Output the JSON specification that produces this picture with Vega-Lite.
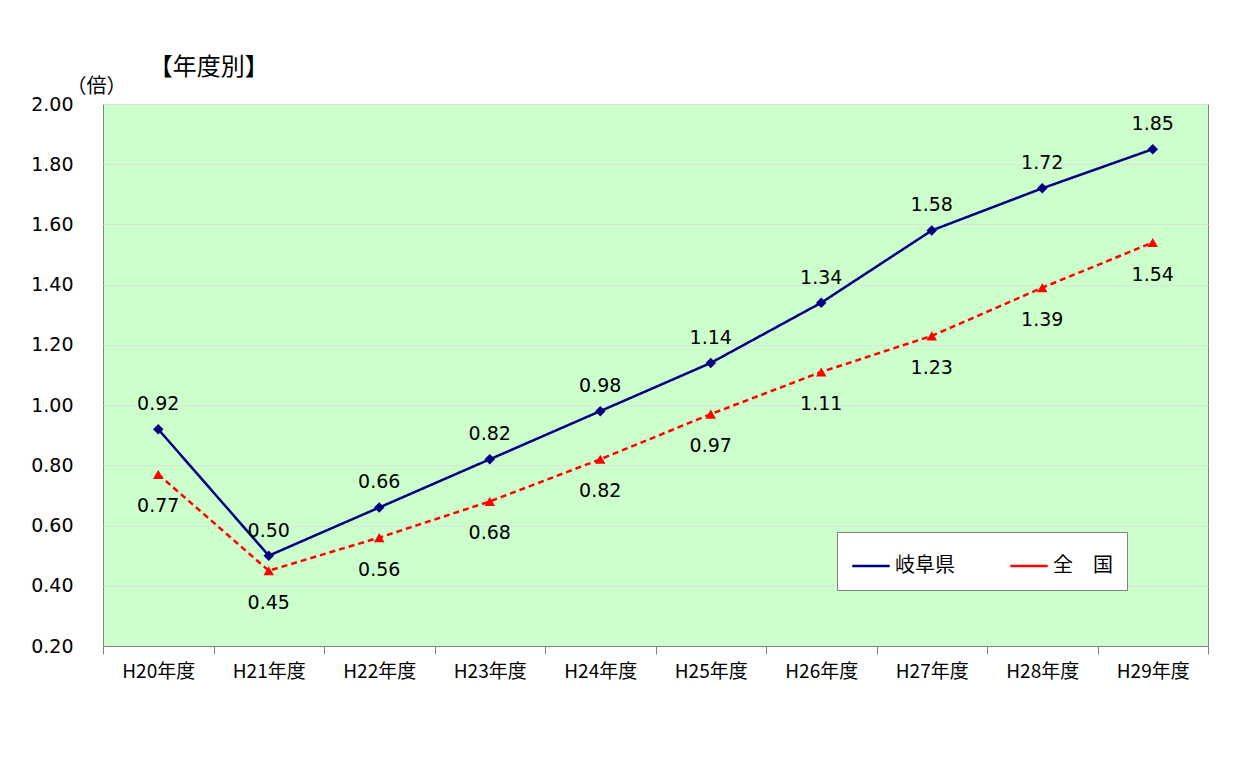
{
"$schema":"https://vega.github.io/schema/vega-lite/v6.json",
"width":1105,"height":542,
"autosize":"none",
"padding":{"left":103,"top":104,"right":50,"bottom":116},
"background":"white",
"title":{"text":"【年度別】","anchor":"start","dx":118,"offset":-4,"fontSize":24,"font":"Noto Sans CJK JP","fontWeight":"normal"},
"config":{"view":{"fill":"#CCFFCC","stroke":"#808080"},"font":"DejaVu Sans"},
"resolve":{"legend":{"color":"independent","shape":"independent"}},
"data":{"values":[
{"year":"H20年度","s":"岐阜県","v":0.92},{"year":"H21年度","s":"岐阜県","v":0.50},{"year":"H22年度","s":"岐阜県","v":0.66},{"year":"H23年度","s":"岐阜県","v":0.82},{"year":"H24年度","s":"岐阜県","v":0.98},{"year":"H25年度","s":"岐阜県","v":1.14},{"year":"H26年度","s":"岐阜県","v":1.34},{"year":"H27年度","s":"岐阜県","v":1.58},{"year":"H28年度","s":"岐阜県","v":1.72},{"year":"H29年度","s":"岐阜県","v":1.85},
{"year":"H20年度","s":"全　国","v":0.77},{"year":"H21年度","s":"全　国","v":0.45},{"year":"H22年度","s":"全　国","v":0.56},{"year":"H23年度","s":"全　国","v":0.68},{"year":"H24年度","s":"全　国","v":0.82},{"year":"H25年度","s":"全　国","v":0.97},{"year":"H26年度","s":"全　国","v":1.11},{"year":"H27年度","s":"全　国","v":1.23},{"year":"H28年度","s":"全　国","v":1.39},{"year":"H29年度","s":"全　国","v":1.54}
]},
"encoding":{
"x":{"field":"year","type":"ordinal","title":null,"scale":{"paddingInner":0,"paddingOuter":0},"axis":{"labelAngle":0,"labelFontSize":19,"labelFont":"Noto Sans CJK JP","labelColor":"black","tickBand":"extent","tickSize":8,"tickColor":"#808080","domainColor":"#808080","labelPadding":8}},
"y":{"field":"v","type":"quantitative","scale":{"domain":[0.2,2.0]},"title":"（倍）","axis":{"values":[0.2,0.4,0.6,0.8,1.0,1.2,1.4,1.6,1.8,2.0],"format":".2f","labelFontSize":19,"labelColor":"black","gridColor":"#d8e8d8","tickSize":0,"domain":false,"titleAngle":0,"titleX":-37,"titleY":-8,"titleAlign":"left","titleFontSize":20,"titleFont":"Noto Sans CJK JP","titleFontWeight":"normal","labelPadding":30}}
},
"layer":[
{"mark":{"type":"line"},
"encoding":{
"color":{"field":"s","type":"nominal","sort":["岐阜県","全　国"],"scale":{"domain":["岐阜県","全　国"],"range":["#000080","#FF0000"]},
"legend":{"title":null,"orient":"none","legendX":734,"legendY":428,"direction":"horizontal","fillColor":"white","strokeColor":"#808080","padding":14,"labelFontSize":20,"labelFont":"Noto Sans CJK JP","symbolType":"stroke","symbolSize":1400,"symbolStrokeWidth":2.5,"columnPadding":50,"labelLimit":200}},
"strokeDash":{"field":"s","type":"nominal","scale":{"domain":["岐阜県","全　国"],"range":[[1,0],[6,4]]},"legend":null},
"strokeWidth":{"value":2.5}}},
{"mark":{"type":"point","filled":true,"size":110,"opacity":1},
"encoding":{
"color":{"field":"s","type":"nominal","legend":null},
"shape":{"field":"s","type":"nominal","scale":{"domain":["岐阜県","全　国"],"range":["diamond","triangle-up"]},"legend":null}}},
{"transform":[{"filter":"datum.s=='岐阜県'"}],"mark":{"type":"text","dy":-25,"fontSize":19,"color":"black"},"encoding":{"text":{"field":"v","format":".2f"}}},
{"transform":[{"filter":"datum.s!='岐阜県'"}],"mark":{"type":"text","dy":32,"fontSize":19,"color":"black"},"encoding":{"text":{"field":"v","format":".2f"}}}
]
}
